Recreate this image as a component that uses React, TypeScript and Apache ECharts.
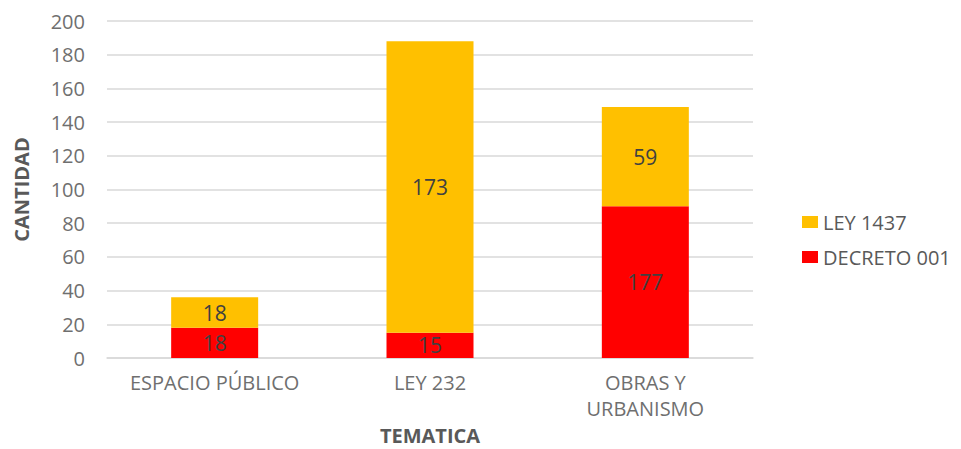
import React, { useEffect, useRef } from "react";
import * as echarts from "echarts";

const categories = ["ESPACIO PÚBLICO", "LEY 232", "OBRAS Y\nURBANISMO"];
const decretoValues = [18, 15, 90];
const decretoLabels = ["18", "15", "177"];
const leyValues = [18, 173, 59];
const leyLabels = ["18", "173", "59"];
const yTicks = { min: 0, max: 200, interval: 20 };

const FONT = "'Open Sans', 'Noto Sans', sans-serif";

export default function App() {
  const ref = useRef<HTMLDivElement>(null);
  useEffect(() => {
    document.body.style.margin = "0";
    if (!ref.current) return;
    const chart = echarts.init(ref.current, undefined, { renderer: "svg" });
    chart.setOption({
      animation: false,
      backgroundColor: "#ffffff",
      textStyle: { fontFamily: FONT },
      grid: { left: 107, right: 208, top: 21, bottom: 91, containLabel: false, outerBoundsMode: "none" },
      legend: {
        orient: "vertical",
        left: 797,
        top: 207,
        itemWidth: 16,
        itemHeight: 12,
        itemGap: 15,
        icon: "rect",
        textStyle: { fontFamily: FONT, fontSize: 20, color: "#595959" },
        data: ["LEY 1437", "DECRETO 001"],
      },
      xAxis: {
        type: "category",
        data: categories,
        name: "TEMATICA",
        nameLocation: "middle",
        nameGap: 66,
        nameTextStyle: { fontFamily: FONT, fontSize: 20, fontWeight: "bold", color: "#595959" },
        axisLine: { lineStyle: { color: "#d9d9d9", width: 1.5 } },
        axisTick: { show: false },
        axisLabel: { interval: 0, hideOverlap: false, fontFamily: FONT, fontSize: 20, color: "#6f6f6f", margin: 11, lineHeight: 26 },
      },
      yAxis: {
        type: "value",
        min: yTicks.min,
        max: yTicks.max,
        interval: yTicks.interval,
        name: "CANTIDAD",
        nameLocation: "middle",
        nameGap: 76,
        nameRotate: 90,
        nameTextStyle: { fontFamily: FONT, fontSize: 20, fontWeight: "bold", color: "#595959" },
        axisLine: { show: false },
        axisTick: { show: false },
        axisLabel: { fontFamily: FONT, fontSize: 20, color: "#6f6f6f", margin: 22 },
        splitLine: { lineStyle: { color: "#d9d9d9", width: 1.5 } },
      },
      series: [
        {
          name: "DECRETO 001",
          type: "bar",
          stack: "total",
          barWidth: 87,
          data: decretoValues,
          itemStyle: { color: "#ff0000" },
          label: {
            show: true,
            position: "inside",
            fontFamily: FONT,
            fontSize: 21,
            color: "#404040",
            formatter: (p: any) => decretoLabels[p.dataIndex],
          },
        },
        {
          name: "LEY 1437",
          type: "bar",
          stack: "total",
          barWidth: 87,
          data: leyValues,
          itemStyle: { color: "#ffc000" },
          label: {
            show: true,
            position: "inside",
            fontFamily: FONT,
            fontSize: 21,
            color: "#404040",
            formatter: (p: any) => leyLabels[p.dataIndex],
          },
        },
      ],
    });
    return () => chart.dispose();
  }, []);
  return <div ref={ref} style={{ width: 961, height: 449 }} />;
}
